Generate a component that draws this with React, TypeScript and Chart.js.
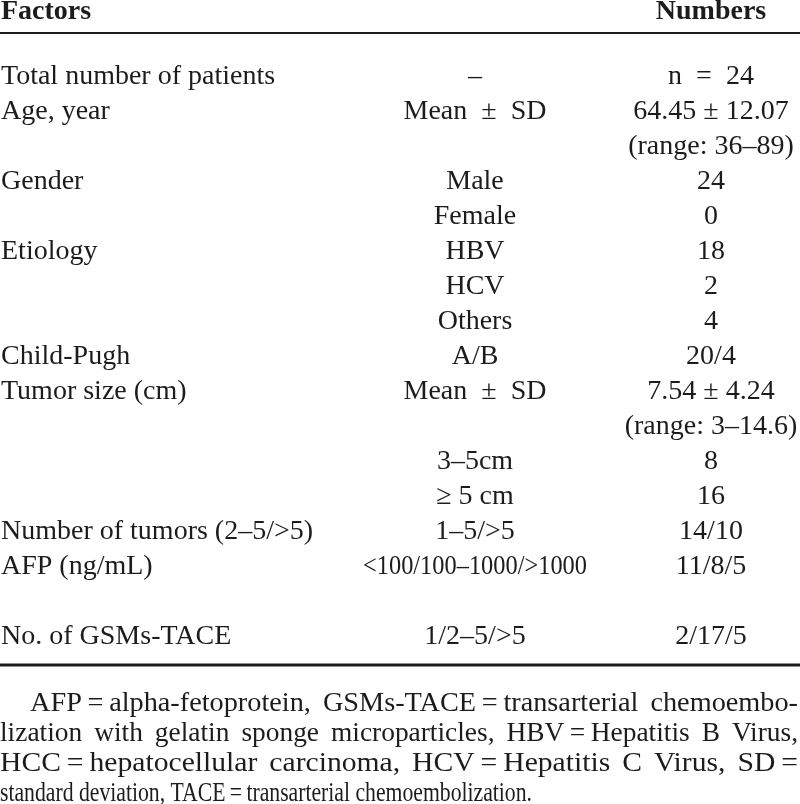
import { useEffect, useRef } from "react";
import { Chart, registerables } from "chart.js";

Chart.register(...registerables);

// ---- Table content ----
const HEADERS = ["Factors", "", "Numbers"];
const FACTORS = [
  "Total number of patients",
  "Age, year",
  "",
  "Gender",
  "",
  "Etiology",
  "",
  "",
  "Child-Pugh",
  "Tumor size (cm)",
  "",
  "",
  "",
  "Number of tumors (2–5/>5)",
  "AFP (ng/mL)",
  "",
  "No. of GSMs-TACE",
];
const SUBGROUPS = [
  "–",
  "Mean\u2002±\u2002SD",
  "",
  "Male",
  "Female",
  "HBV",
  "HCV",
  "Others",
  "A/B",
  "Mean\u2002±\u2002SD",
  "",
  "3–5cm",
  "≥ 5 cm",
  "1–5/>5",
  "<100/100–1000/>1000",
  "",
  "1/2–5/>5",
];
const NUMBERS = [
  "n\u2002=\u200224",
  "64.45 ± 12.07",
  "(range: 36–89)",
  "24",
  "0",
  "18",
  "2",
  "4",
  "20/4",
  "7.54 ± 4.24",
  "(range: 3–14.6)",
  "8",
  "16",
  "14/10",
  "11/8/5",
  "",
  "2/17/5",
];
const FOOTNOTE_LINES = [
  "AFP\u2009=\u2009alpha-fetoprotein, GSMs-TACE\u2009=\u2009transarterial chemoembo-",
  "lization with gelatin sponge microparticles, HBV\u2009=\u2009Hepatitis B Virus,",
  "HCC\u2009=\u2009hepatocellular carcinoma, HCV\u2009=\u2009Hepatitis C Virus, SD\u2009=",
  "standard deviation, TACE\u2009=\u2009transarterial chemoembolization.",
];

const ROW_KEYS = FACTORS.map((_, i) => `r${i}`);
const COLUMNS = [FACTORS, SUBGROUPS, NUMBERS];

// ---- Layout / style (not data) ----
const W = 800;
const H = 804;
const ROW_PITCH = 35;
const FIRST_ROW_CENTER = 75;
const COL_LAYOUT = [
  { anchor: 1, align: "left" as CanvasTextAlign, maxWidth: 380 },
  { anchor: 475, align: "center" as CanvasTextAlign, maxWidth: 224 },
  { anchor: 711, align: "center" as CanvasTextAlign, maxWidth: 176 },
];
const FONT = '28px "Liberation Serif", "Times New Roman", serif';
const BOLD = 'bold 28px "Liberation Serif", "Times New Roman", serif';
const FOOT_FONT = '28px "Liberation Serif", "Times New Roman", serif';
const INK = "#1c1c1c";
const FOOT_GAP = 12;
const LAST_LINE_WIDTH = 532;

const tablePlugin = {
  id: "tableText",
  afterDatasetsDraw(chart: any) {
    const { ctx, chartArea } = chart;
    ctx.save();
    ctx.fillStyle = INK;
    ctx.textBaseline = "alphabetic";

    // cells
    chart.data.datasets.forEach((ds: any, di: number) => {
      const meta = chart.getDatasetMeta(di);
      const lay = COL_LAYOUT[di];
      ctx.font = FONT;
      ctx.textAlign = lay.align;
      meta.data.forEach((el: any, i: number) => {
        const txt = ds.data[i].label;
        ctx.fillText(txt, el.x, el.y + 9, lay.maxWidth);
      });
    });

    // header
    const xScale = chart.scales.x;
    ctx.font = BOLD;
    HEADERS.forEach((h, i) => {
      if (!h) return;
      const lay = COL_LAYOUT[i];
      ctx.textAlign = lay.align;
      ctx.fillText(h, xScale.getPixelForValue(lay.anchor), chartArea.top - 38.5);
    });

    // rules
    ctx.strokeStyle = INK;
    ctx.lineWidth = 2;
    ctx.beginPath();
    ctx.moveTo(chartArea.left, chartArea.top - 24.5);
    ctx.lineTo(chartArea.right, chartArea.top - 24.5);
    ctx.stroke();
    ctx.lineWidth = 3;
    ctx.beginPath();
    ctx.moveTo(chartArea.left, chartArea.bottom + 12.5);
    ctx.lineTo(chartArea.right, chartArea.bottom + 12.5);
    ctx.stroke();

    // footnote (condensed, justified)
    ctx.font = FOOT_FONT;
    ctx.textAlign = "left";
    const right = chartArea.right - 2;
    FOOTNOTE_LINES.forEach((line, k) => {
      const y = chartArea.bottom + 58 + 30 * k;
      const x0 = chartArea.left + (k === 0 ? 30 : 0);
      const words = line.split(" ");
      const raw = words.map((w) => ctx.measureText(w).width);
      const rawTotal = raw.reduce((a, b) => a + b, 0);
      const isLast = k === FOOTNOTE_LINES.length - 1;
      let sx: number;
      let gap: number;
      if (isLast) {
        const sp = ctx.measureText(" ").width;
        sx = LAST_LINE_WIDTH / (rawTotal + sp * (words.length - 1));
        gap = sp * sx;
      } else {
        gap = FOOT_GAP;
        sx = (right - x0 - gap * (words.length - 1)) / rawTotal;
      }
      let x = x0;
      words.forEach((w, i) => {
        ctx.save();
        ctx.translate(x, y);
        ctx.scale(sx, 1);
        ctx.fillText(w, 0, 0);
        ctx.restore();
        x += raw[i] * sx + gap;
      });
    });
    ctx.restore();
  },
};

export default function App() {
  const ref = useRef<HTMLCanvasElement | null>(null);

  useEffect(() => {
    document.body.style.margin = "0";
    const canvas = ref.current;
    if (!canvas) return;
    const nRows = ROW_KEYS.length;
    const top = FIRST_ROW_CENTER - ROW_PITCH / 2;
    const bottom = H - (top + ROW_PITCH * nRows);

    const datasets = COLUMNS.map((col, ci) => ({
      label: HEADERS[ci] || "Subgroup",
      data: col
        .map((txt, ri) => ({ x: COL_LAYOUT[ci].anchor, y: ROW_KEYS[ri], label: txt }))
        .filter((p) => p.label !== ""),
      pointRadius: 0,
      pointHoverRadius: 0,
      showLine: false,
    }));

    const chart = new Chart(canvas, {
      type: "scatter",
      data: { datasets } as any,
      options: {
        animation: false,
        responsive: false,
        maintainAspectRatio: false,
        events: [],
        layout: { padding: { top, bottom, left: 0, right: 0 } },
        plugins: { legend: { display: false }, tooltip: { enabled: false } },
        scales: {
          x: { type: "linear", min: 0, max: W, display: false },
          y: { type: "category", labels: ROW_KEYS, offset: true, display: false },
        },
      } as any,
      plugins: [tablePlugin],
    });
    return () => chart.destroy();
  }, []);

  return (
    <div style={{ width: W, height: H, background: "#fff" }}>
      <canvas ref={ref} width={W} height={H} style={{ display: "block" }} />
    </div>
  );
}
